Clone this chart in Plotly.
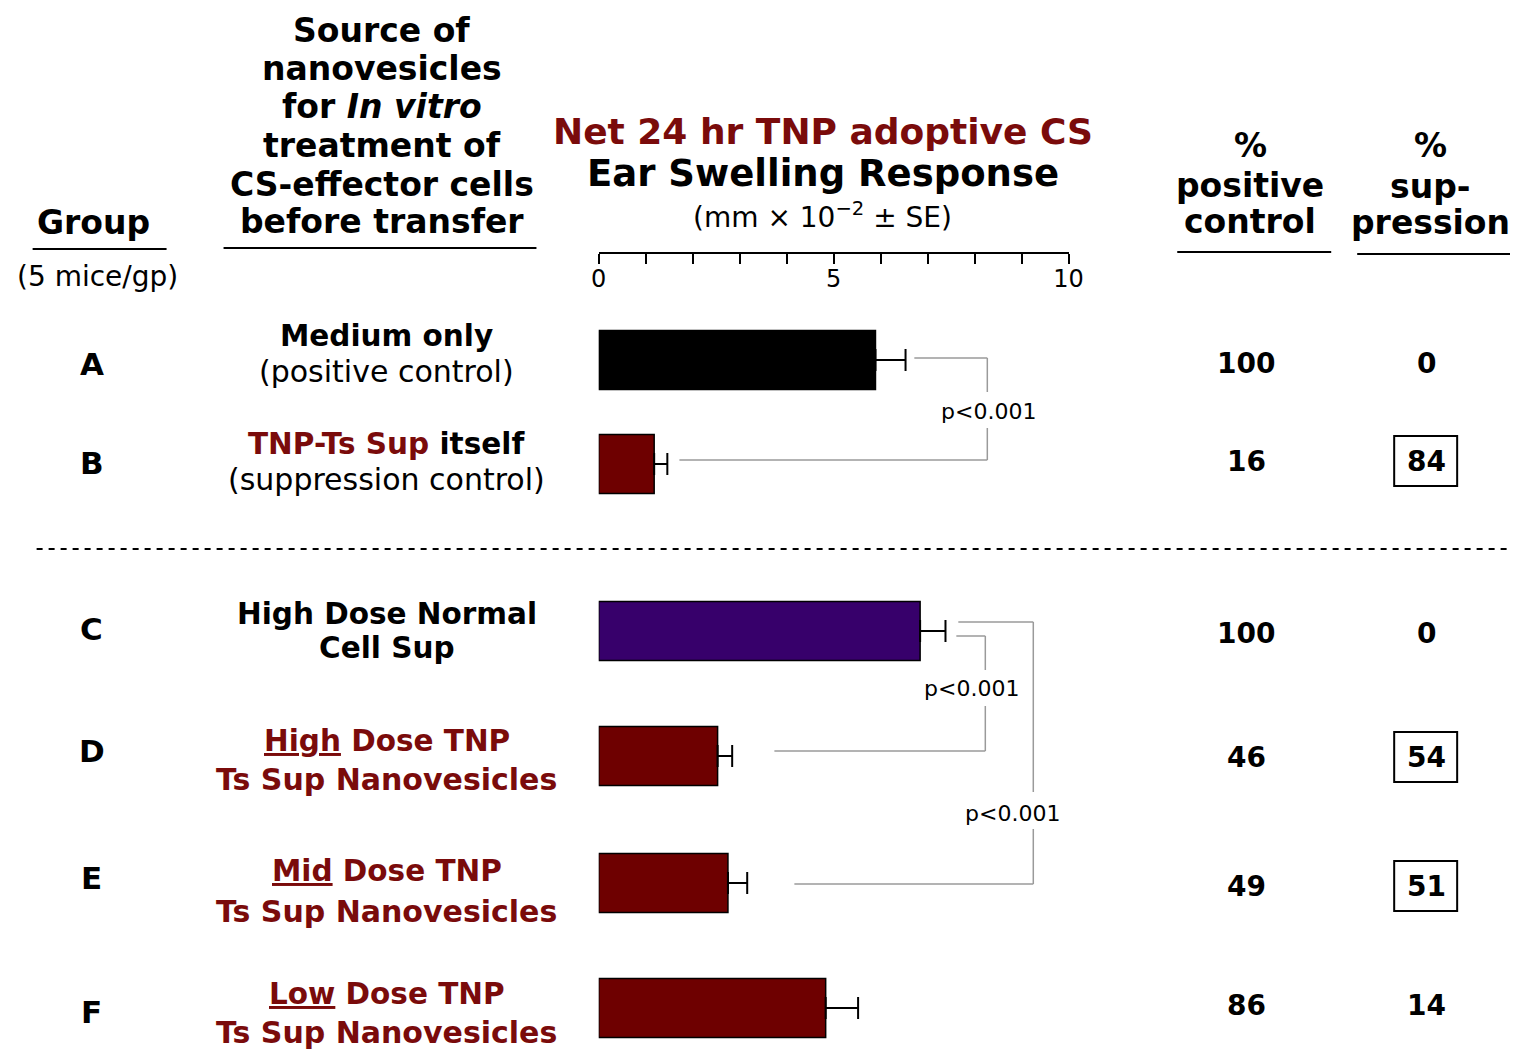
import plotly.graph_objects as go

# ---------------- data ----------------
groups = ["A", "B", "C", "D", "E", "F"]
response = [5.89, 1.18, 6.84, 2.53, 2.75, 4.83]          # mm x 10^-2
response_se = [0.64, 0.28, 0.54, 0.31, 0.41, 0.69]
pct_positive = [100, 16, 100, 46, 49, 86]
pct_suppression = [0, 84, 0, 54, 51, 14]
suppression_boxed = [False, True, False, True, True, False]
tick_values = [0, 5, 10]
tick_labels = ["0", "5", "10"]
minor_tick_step = 1
p_labels = ["p<0.001", "p<0.001", "p<0.001"]

# ---------------- style / layout ----------------
OFF = 8                      # default page margin of the html body
W, H = 1518 - 2 * OFF, 1060 - 2 * OFF
MAROON = "#7A0B0B"
BAR_RED = "#6E0000"
BAR_COLORS = ["#000000", BAR_RED, "#37006B", BAR_RED, BAR_RED, BAR_RED]
FONT = "DejaVu Sans"
row_y = [360, 464, 631, 756, 883, 1008]       # page pixel rows (y axis = page pixels)
letter_y = [364, 463, 629, 751, 878, 1012]
num_y = [363, 461, 633, 757, 886, 1005]
axis_x0, axis_x1, axis_y = 597.3, 1067.3, 252.7
SX, SX0 = 0.985, 6.5          # horizontal calibration of the photographed page


def px(x):
    page_x = (x - SX0) / SX
    return (page_x - OFF) / W


fig = go.Figure()

fig.add_trace(go.Bar(
    x=response, y=row_y, orientation="h", width=59,
    marker=dict(color=BAR_COLORS, line=dict(color="black", width=1.5)),
    error_x=dict(type="data", array=response_se, arrayminus=[0] * len(response),
                 symmetric=False, color="black", thickness=2, width=11),
    cliponaxis=False, hoverinfo="skip", showlegend=False,
))

ann = []


def text(x, y, s, size, color="black", bold=False):
    if bold:
        s = "<b>" + s + "</b>"
    ann.append(dict(x=px(x), y=y, xref="paper", yref="y", text=s, showarrow=False,
                    xanchor="center", yanchor="middle",
                    font=dict(family=FONT, size=size, color=color)))


# column headers
text(92, 222, "Group", 33, bold=True)
text(96, 276, "(5 mice/gp)", 28)
src_lines = ["Source of", "nanovesicles", "for <i>In vitro</i>", "treatment of",
             "CS-effector cells", "before transfer"]
for s, yy in zip(src_lines, [30, 68, 106, 145, 184, 221]):
    text(380, yy, s, 33, bold=True)
text(822, 131, "Net 24 hr TNP adoptive CS", 36, color=MAROON, bold=True)
text(822, 173, "Ear Swelling Response", 37, bold=True)
text(821, 215, "(mm × 10<sup>−2</sup> ± SE)", 28)
for s, yy in zip(["%", "positive", "control"], [145, 185, 221]):
    text(1249, yy, s, 33, bold=True)
for s, yy in zip(["%", "sup-", "pression"], [145, 186, 222]):
    text(1429, yy, s, 33, bold=True)

# row descriptions
desc = [
    [("Medium only", "black", True, 336, 29.5), ("(positive control)", "black", False, 371, 30)],
    [(f"<span style='color:{MAROON}'>TNP-Ts Sup</span> itself", "black", True, 444, 29.5),
     ("(suppression control)", "black", False, 479, 30)],
    [("High Dose Normal", "black", True, 614, 29.5), ("Cell Sup", "black", True, 648, 29.5)],
    [("<u>High</u> Dose TNP", MAROON, True, 741, 29.5),
     ("Ts Sup Nanovesicles", MAROON, True, 779, 30)],
    [("<u>Mid</u> Dose TNP", MAROON, True, 871, 29.5),
     ("Ts Sup Nanovesicles", MAROON, True, 911, 30)],
    [("<u>Low</u> Dose TNP", MAROON, True, 994, 29.5),
     ("Ts Sup Nanovesicles", MAROON, True, 1032, 30)],
]
for lines in desc:
    for s, c, b, yy, sz in lines:
        text(385, yy, s, sz, color=c, bold=b)

# group letters and percentages
for g, ly, ny, pp, ps in zip(groups, letter_y, num_y, pct_positive, pct_suppression):
    text(90, ly, g, 31, bold=True)
    text(1245, ny, str(pp), 28, bold=True)
    text(1425, ny, str(ps), 28, bold=True)

# p-value labels
for s, (xx, yy) in zip(p_labels, [(987, 411), (970, 688), (1011, 813)]):
    text(xx, yy, s, 22)

shapes = []


def line(x0, y0, x1, y1, color="black", width=2, dash=None):
    d = dict(type="line", xref="paper", yref="y", x0=px(x0), x1=px(x1), y0=y0, y1=y1,
             line=dict(color=color, width=width))
    if dash:
        d["line"]["dash"] = dash
    shapes.append(d)


# header underlines
line(31, 249, 165, 249)
line(222, 248, 535, 248)
line(1176, 252, 1330, 252)
line(1356, 254, 1510, 254)
# dashed separator
line(35, 549, 1512, 549, width=2, dash="6px,6px")

# boxes around significant suppression
for yy, boxed in zip(num_y, suppression_boxed):
    if boxed:
        shapes.append(dict(type="rect", xref="paper", yref="y",
                           x0=px(1393), x1=px(1456), y0=yy - 25, y1=yy + 25,
                           line=dict(color="black", width=2)))

# significance brackets
GRAY = "#9A9A9A"
bw = 1.5
# A vs B
line(913, 358, 986, 358, GRAY, bw)
line(986, 358, 986, 392, GRAY, bw)
line(986, 428, 986, 460, GRAY, bw)
line(678, 460, 986, 460, GRAY, bw)
# C vs D
line(955, 636, 984, 636, GRAY, bw)
line(984, 636, 984, 670, GRAY, bw)
line(984, 706, 984, 751, GRAY, bw)
line(773, 751, 984, 751, GRAY, bw)
# C vs E
line(957, 622, 1032, 622, GRAY, bw)
line(1032, 622, 1032, 792, GRAY, bw)
line(1032, 829, 1032, 884, GRAY, bw)
line(793, 884, 1032, 884, GRAY, bw)

fig.update_layout(
    width=W, height=H, margin=dict(l=0, r=0, t=0, b=0),
    paper_bgcolor="white", plot_bgcolor="rgba(0,0,0,0)",
    font=dict(family=FONT, color="black"),
    annotations=ann, shapes=shapes, showlegend=False,
    xaxis=dict(domain=[px(axis_x0), px(axis_x1)], range=[0, 10], anchor="free",
               position=1 - (axis_y - OFF) / H, side="bottom",
               showline=True, linecolor="black", linewidth=2,
               ticks="outside", ticklen=10, tickwidth=2, tickcolor="black",
               tickvals=tick_values, ticktext=tick_labels, ticklabelstandoff=-6,
               minor=dict(dtick=minor_tick_step, ticks="outside", ticklen=10,
                          tickwidth=2, tickcolor="black", showgrid=False),
               tickfont=dict(family=FONT, size=24, color="black"),
               showgrid=False, zeroline=False, fixedrange=True),
    yaxis=dict(domain=[0, 1], range=[H + OFF, OFF], visible=False, showgrid=False,
               zeroline=False, fixedrange=True),
)

fig.write_html("out.html")
